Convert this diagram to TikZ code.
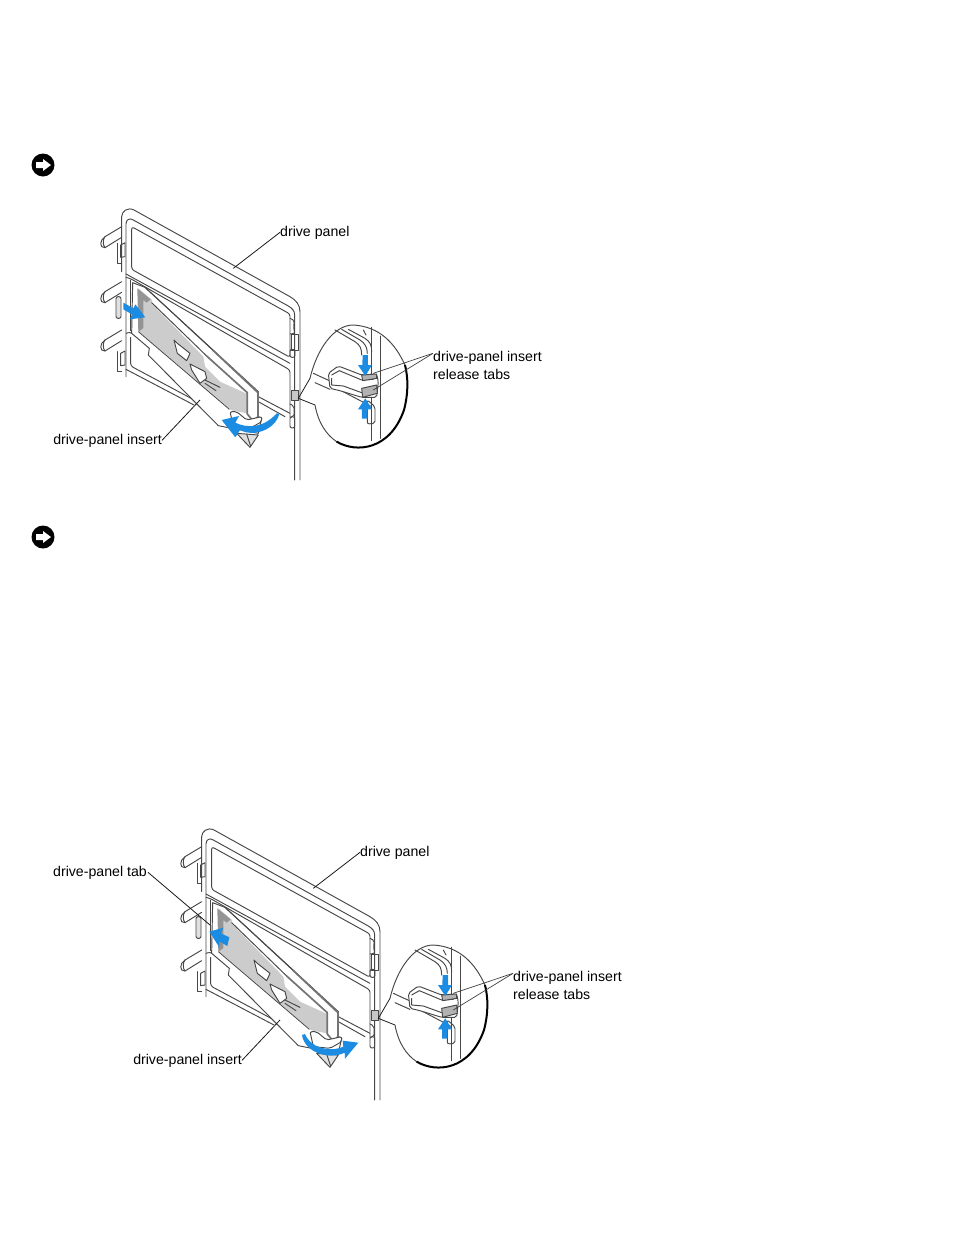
\documentclass[tikz,border=0pt]{standalone}
\usepackage{fontspec}
\setmainfont{Liberation Sans}
\tikzset{
  panelline/.style={line width=0.95pt, black!72, line join=round, line cap=round},
  thinline/.style={line width=0.7pt, black!75, line join=round},
  leader/.style={line width=0.8pt, black!90},
  barline/.style={line width=1.7pt, black!55, line join=round, line cap=round},
  bluearrow/.style={fill={rgb,255:red,28;green,140;blue,226}, draw=none},
  panellabel/.style={inner sep=0pt, font=\fontsize{14.15}{18.5}\selectfont, align=left},
  notice/.style={circle, fill=black, minimum size=23pt, inner sep=0pt,
    path picture={\fill[white] (path picture bounding box.center)
      ++(-7,-3) -- ++(7,0) -- ++(0,-3) -- ++(8,6) -- ++(-8,6) -- ++(0,-3) -- ++(-7,0) -- cycle;}}
}
% one drawing of the panel, #1 is its top left corner
\newcommand{\panelfig}[1]{
  \begin{scope}[shift={#1}, scale=1/3]
    % frame
    \draw[panelline] (95,215) -- (95,50) .. controls (95,35) and (112,20) .. (132,30) -- (600,290)
      .. controls (618,300) and (630,315) .. (630,335) -- (630,840);
    \draw[panelline] (108,530) -- (108,72) .. controls (108,60) and (118,52) .. (130,60) -- (595,318)
      .. controls (606,325) and (614,332) .. (614,345) -- (614,840);
    \draw[panelline, rounded corners=2.5pt] (125,80) -- (600,342) -- (600,472) -- (125,208) -- cycle;
    \draw[panelline] (108,222) -- (600,490);
    \draw[panelline, rounded corners=2.5pt] (108,232) -- (122,236) -- (600,510) -- (600,650);
    \draw[panelline] (122,240) -- (122,392);
    \draw[panelline] (505,590) -- (600,640);
    \draw[panelline] (505,605) -- (585,650);
    % lower window
    \draw[panelline, rounded corners=2.5pt] (108,400) -- (120,396) -- (185,435);
    \draw[panelline, rounded corners=2.5pt] (122,412) -- (122,498) -- (322,605);
    \draw[panelline] (108,508) -- (312,615);
    % hooks on the left
    \foreach \hy in {0,165,310} {
      \draw[panelline] (95,80+\hy) -- (45,110+\hy) .. controls (28,120+\hy) and (28,145+\hy) .. (45,143+\hy) -- (95,112+\hy);
      \draw[panelline] (45,110+\hy) .. controls (38,118+\hy) and (38,135+\hy) .. (45,143+\hy);
    }
    \foreach \hy in {0,325} {
      \draw[panelline] (82,130+\hy) -- (82,190+\hy) -- (95,190+\hy);
      \draw[panelline] (92,135+\hy) -- (105,128+\hy) -- (105,170+\hy) -- (92,172+\hy) -- cycle;
    }
    \draw[panelline, fill=black!12, rounded corners=2pt] (78,290) rectangle (93,355);
    % clips on the right
    \draw[panelline, rounded corners=2pt] (600,355) -- (614,362) -- (610,380) -- (615,400) -- (600,402);
    \draw[panelline] (605,402) rectangle (625,452);
    \draw[panelline, rounded corners=2pt] (600,448) rectangle (615,472);
    \draw[panelline, fill=black!22] (605,570) rectangle (626,602);
    \draw[panelline, rounded corners=2pt] (600,612) -- (612,618) -- (612,650) -- (600,652);
    \draw[panelline, rounded corners=2pt] (600,650) rectangle (614,684);
    % insert
    \draw[panelline, fill=white] (128,248) -- (165,262) -- (505,575) -- (505,650) -- (515,655)
      -- (512,668) -- (505,700) -- (410,682) -- (385,677) -- (175,465)
      -- (178,445) -- (125,400) -- cycle;
    \fill[black!20] (145,265) -- (186,300) -- (186,312) -- (340,470) -- (345,500) -- (390,545)
      -- (472,582) -- (472,640) -- (430,632) -- (418,628) -- (145,395) -- cycle;
    \draw[thinline] (145,395) -- (418,628);
    \fill[black!42] (142,265) -- (182,298) -- (170,308) -- (160,300) -- (160,384) -- (145,396) -- cycle;
    \draw[panelline] (165,262) -- (370,452);
    \draw[panelline] (185,308) -- (350,468);
    % the long bar
    \draw[barline] (350,468) -- (472,578) -- (472,642) -- (490,664) -- (504,650) -- (504,578) -- (370,452);
    % clips on the insert
    \draw[panelline, fill=white] (252,420) -- (262,430) -- (300,460) -- (290,482) -- (262,460) -- cycle;
    \draw[panelline, fill=white] (300,492) -- (345,515) -- (350,535) -- (330,550) -- (305,510) -- cycle;
    \draw[panelline] (345,540) -- (390,562);
    \draw[panelline] (345,550) -- (378,572);
    % handle
    \draw[panelline, fill=white, rounded corners=2pt] (420,635) -- (440,635) -- (470,660) -- (515,650) -- (515,665) -- (480,685) -- (430,680) -- cycle;
    \draw[panelline, fill=black!12] (440,700) -- (480,742) -- (505,705) -- cycle;
    \draw[panelline] (470,702) -- (482,738);
    % callout
    \begin{scope}[shift={(570,330)}]
      \coordinate (tip) at (55,265);
      \draw[leader] (90,205) -- (tip) -- (105,285);
      \draw[panelline] (90,205) .. controls (110,120) and (160,45) .. (220,45)
        .. controls (300,50) and (345,100) .. (375,165);
      \draw[panelline] (105,285) .. controls (115,340) and (140,375) .. (170,395);
      \draw[line width=2pt, black] (170,395) .. controls (230,430) and (330,420) .. (372,300)
        .. controls (385,250) and (385,205) .. (375,165);
      \draw[panelline] (275,52) -- (275,392);
      \draw[panelline] (300,78) -- (300,385);
      \draw[panelline] (165,60) -- (225,95) .. controls (240,105) and (245,115) .. (245,135);
      \draw[panelline] (185,58) -- (240,90) .. controls (255,100) and (262,112) .. (262,130);
      \draw[panelline] (205,58) -- (255,85) .. controls (270,95) and (275,105) .. (275,125);
      \draw[panelline] (250,60) -- (258,75);
      \draw[panelline] (100,190) -- (148,212);
      \draw[panelline] (105,218) -- (150,238);
      \draw[panelline] (180,240) -- (275,290);
      \draw[panelline, fill=white, rounded corners=2pt] (145,190) -- (175,168) -- (245,195) -- (290,192) -- (295,215)
        -- (290,262) -- (245,262) -- (180,242) -- (150,235) -- cycle;
      \draw[panelline] (155,195) -- (178,182) -- (245,210) -- (280,208);
      \draw[panelline] (155,205) -- (155,225) -- (190,228) -- (245,248);
      \draw[panelline, fill=black!30] (245,235) -- (290,225) -- (292,250) -- (248,262) -- cycle;
      \draw[panelline, fill=black!30] (245,195) -- (290,192) -- (290,205) -- (248,212) -- cycle;
      \draw[panelline, rounded corners=2pt] (262,270) -- (285,290) -- (285,340) -- (262,342) -- cycle;
      \coordinate (reltop) at (280,190);
      \coordinate (relbot) at (280,240);
      % arrows
      \fill[bluearrow] (248,135) -- (264,135) -- (264,165) -- (276,165) -- (256,198) -- (234,165) -- (247,165) -- cycle;
      \fill[bluearrow] (256,265) -- (276,298) -- (263,298) -- (263,326) -- (246,326) -- (246,298) -- (234,298) -- cycle;
    \end{scope}
    \coordinate (panelend) at (430,205);
    \coordinate (insertend) at (330,600);
    % labels
    \node[panellabel, anchor=west] (drive) at (570,99) {drive panel};
    \node[panellabel, anchor=east] (insert) at (216,723) {drive-panel insert};
    \node[panellabel, anchor=north west] (tabs) at (1029,453) {drive-panel insert\\release tabs};
    \draw[leader] ([yshift=2pt]drive.west) -- (panelend);
    \draw[leader] ([yshift=2pt]insert.east) -- (insertend);
    \draw[thinline] ([yshift=-7pt]tabs.north west) -- (reltop);
    \draw[thinline] ([yshift=-7pt]tabs.north west) -- (relbot);
  \end{scope}
}

\begin{document}
\begin{tikzpicture}[x=1pt, y=-1pt]
  \useasboundingbox (0,0) rectangle (954,1235);

  \node[notice] (noteA) at (43,165) {};
  \node[notice] (noteB) at (43,537) {};

  \panelfig{(90,200)}
  \begin{scope}[shift={(90,200)}, scale=1/3]
    % insert comes out
    \fill[bluearrow] (100,308) -- (130,325) -- (136,313) -- (166,352) -- (120,358) -- (126,343) -- (100,328) -- cycle;
    \fill[bluearrow] (395,660) -- (447,648) -- (436,668) .. controls (470,685) and (520,685) .. (560,640)
      -- (568,642) .. controls (555,690) and (490,712) .. (450,690) -- (436,712) -- cycle;
  \end{scope}

  \panelfig{(170,820)}
  \begin{scope}[shift={(170,820)}, scale=1/3]
    \node[panellabel, anchor=east] (tab) at (-69,159) {drive-panel tab};
    \coordinate (tabend) at (120,315);
    \draw[leader] ([xshift=3pt,yshift=2pt]tab.east) -- (tabend);
    % insert goes in
    \fill[bluearrow] (118,335) -- (160,323) -- (153,340) -- (178,352) -- (172,378) -- (148,364) -- (148,382) -- cycle;
    \fill[bluearrow] (565,668) -- (525,716) -- (524,698) .. controls (480,720) and (405,700) .. (396,645)
      -- (405,642) .. controls (425,690) and (490,695) .. (520,680) -- (518,662) -- cycle;
  \end{scope}
\end{tikzpicture}
\end{document}
